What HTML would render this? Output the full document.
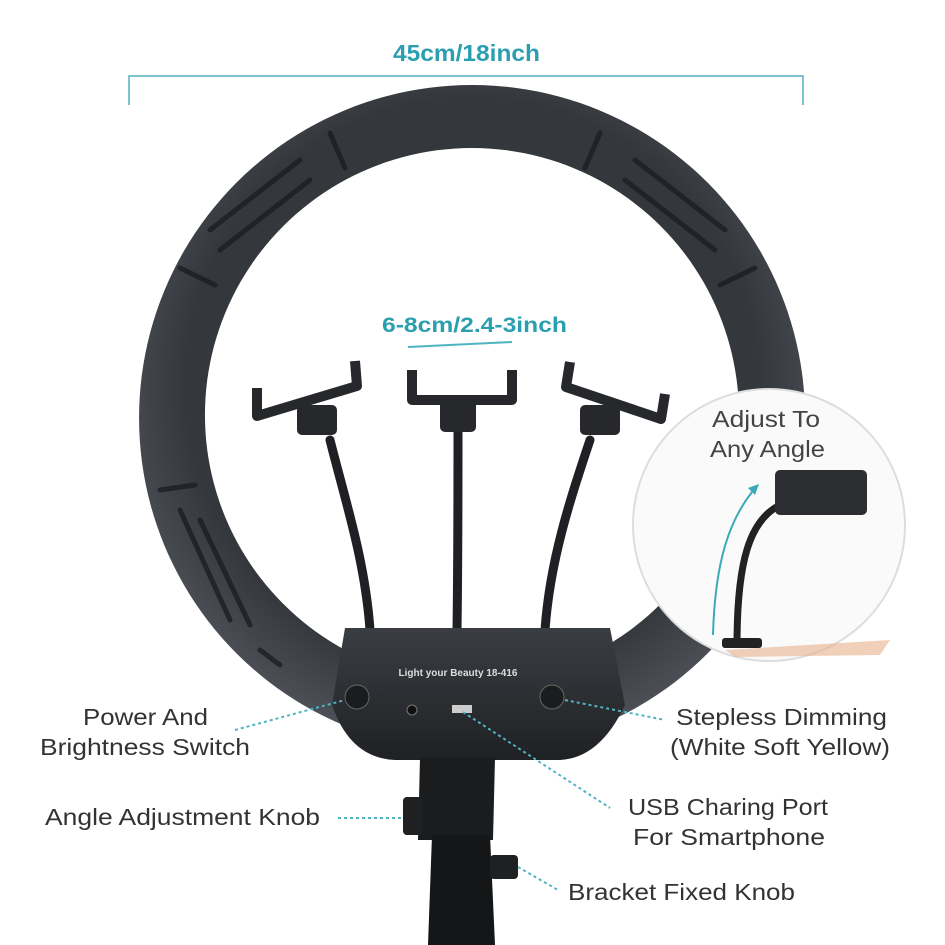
<!DOCTYPE html>
<html><head><style>
body{margin:0;background:#fff}
svg{display:block}
text{font-family:"Liberation Sans","DejaVu Sans",sans-serif}
</style></head><body>
<svg width="945" height="945" viewBox="0 0 945 945">
<defs>
<radialGradient id="rg" cx="0.5" cy="0.45" r="0.55">
<stop offset="0.78" stop-color="#34373c"/><stop offset="1" stop-color="#4d5157"/>
</radialGradient>
<linearGradient id="bg" x1="0" y1="0" x2="0" y2="1"><stop offset="0" stop-color="#3a3d42"/><stop offset="1" stop-color="#1f2124"/></linearGradient>
</defs>
<text x="393" y="61" font-size="23" font-weight="bold" fill="#2a9fb0" textLength="147" lengthAdjust="spacingAndGlyphs">45cm/18inch</text>
<path d="M129 105V76H803V105" fill="none" stroke="#7cc4cf" stroke-width="2"/>
<path fill-rule="evenodd" fill="url(#rg)" d="M472 85a333 333 0 1 0 0.1 0Z M472 148a267 267 0 1 1 -0.1 0Z"/>
<g stroke="#1c1e21" stroke-width="5" stroke-linecap="round" opacity="0.8">
<line x1="330" y1="133" x2="345" y2="168"/><line x1="600" y1="133" x2="585" y2="168"/>
<line x1="180" y1="268" x2="215" y2="285"/><line x1="755" y1="268" x2="720" y2="285"/>
<line x1="160" y1="490" x2="195" y2="485"/><line x1="775" y1="490" x2="740" y2="485"/>
<line x1="210" y1="230" x2="300" y2="160"/><line x1="220" y1="250" x2="310" y2="180"/>
<line x1="725" y1="230" x2="635" y2="160"/><line x1="715" y1="250" x2="625" y2="180"/>
<line x1="180" y1="510" x2="230" y2="620"/><line x1="200" y1="520" x2="250" y2="625"/>
<line x1="260" y1="650" x2="280" y2="665"/>
</g>
<circle cx="769" cy="525" r="136" fill="#fafafa" stroke="#ddd" stroke-width="2"/>
<text x="712" y="427" font-size="23" fill="#444" textLength="108" lengthAdjust="spacingAndGlyphs">Adjust To</text>
<text x="710" y="457" font-size="23" fill="#444" textLength="115" lengthAdjust="spacingAndGlyphs">Any Angle</text>
<path d="M713 635C715 560 730 520 752 492" fill="none" stroke="#3aaab8" stroke-width="2"/>
<path d="M748 488l11 -4-4 11z" fill="#3aaab8"/>
<path d="M737 645C737 560 750 520 780 505" fill="none" stroke="#222" stroke-width="7"/>
<rect x="775" y="470" width="92" height="45" rx="5" fill="#2c2e31"/>
<rect x="722" y="638" width="40" height="10" rx="3" fill="#222"/>
<path d="M725 650L890 640 880 655 735 657Z" fill="#e8b08a" opacity="0.6"/>
<g fill="none" stroke="#1e2023" stroke-width="9" stroke-linecap="round">
<path d="M370 630C365 560 345 500 330 440"/>
<path d="M457 630C458 560 458 500 458 430"/>
<path d="M545 630C550 560 570 500 590 440"/>
</g>
<g fill="none" stroke="#26282b" stroke-width="10" stroke-linejoin="round">
<path d="M257 388l0 28 100 -30 -2 -25"/>
<path d="M412 370l0 30 100 0 0 -30"/>
<path d="M570 362l-4 25 95 32 4 -25"/>
</g>
<g fill="#26282b">
<rect x="297" y="405" width="40" height="30" rx="5"/>
<rect x="440" y="400" width="36" height="32" rx="5"/>
<rect x="580" y="405" width="40" height="30" rx="5"/>
</g>
<path d="M345 628H610L625 705Q600 758 560 760H395Q350 758 332 705Z" fill="url(#bg)"/>
<text x="458" y="676" font-size="10" font-weight="bold" fill="#ddd" text-anchor="middle">Light your Beauty 18-416</text>
<circle cx="357" cy="697" r="12" fill="#1b1c1e" stroke="#666"/>
<circle cx="552" cy="697" r="12" fill="#1b1c1e" stroke="#666"/>
<circle cx="412" cy="710" r="5" fill="#111" stroke="#777"/>
<rect x="452" y="705" width="20" height="8" fill="#ccc"/>
<path d="M420 758H495L493 840H418Z" fill="#1b1c1e"/>
<path d="M432 835H490L495 945H428Z" fill="#151617"/>
<rect x="403" y="797" width="20" height="38" rx="4" fill="#1f2022"/>
<rect x="490" y="855" width="28" height="24" rx="4" fill="#1f2022"/>
<g stroke="#4fb4c2" stroke-width="2" stroke-dasharray="3,3" fill="none">
<line x1="235" y1="730" x2="345" y2="700"/>
<line x1="565" y1="700" x2="665" y2="720"/>
<line x1="463" y1="712" x2="610" y2="808"/>
<line x1="338" y1="818" x2="402" y2="818"/>
<line x1="518" y1="867" x2="558" y2="890"/>
</g>
<g font-size="23" fill="#333" lengthAdjust="spacingAndGlyphs">
<text x="83" y="725" textLength="125" lengthAdjust="spacingAndGlyphs">Power And</text>
<text x="40" y="755" textLength="210" lengthAdjust="spacingAndGlyphs">Brightness Switch</text>
<text x="676" y="725" textLength="211" lengthAdjust="spacingAndGlyphs">Stepless Dimming</text>
<text x="670" y="755" textLength="220" lengthAdjust="spacingAndGlyphs">(White Soft Yellow)</text>
<text x="45" y="825" textLength="275" lengthAdjust="spacingAndGlyphs">Angle Adjustment Knob</text>
<text x="628" y="815" textLength="200" lengthAdjust="spacingAndGlyphs">USB Charing Port</text>
<text x="633" y="845" textLength="192" lengthAdjust="spacingAndGlyphs">For Smartphone</text>
<text x="568" y="900" textLength="227" lengthAdjust="spacingAndGlyphs">Bracket Fixed Knob</text>
</g>
<text x="382" y="332" font-size="21" font-weight="bold" fill="#2a9fb0" textLength="185" lengthAdjust="spacingAndGlyphs">6-8cm/2.4-3inch</text>
<line x1="408" y1="347" x2="512" y2="342" stroke="#4fb4c2" stroke-width="2"/>
</svg>
</body></html>
